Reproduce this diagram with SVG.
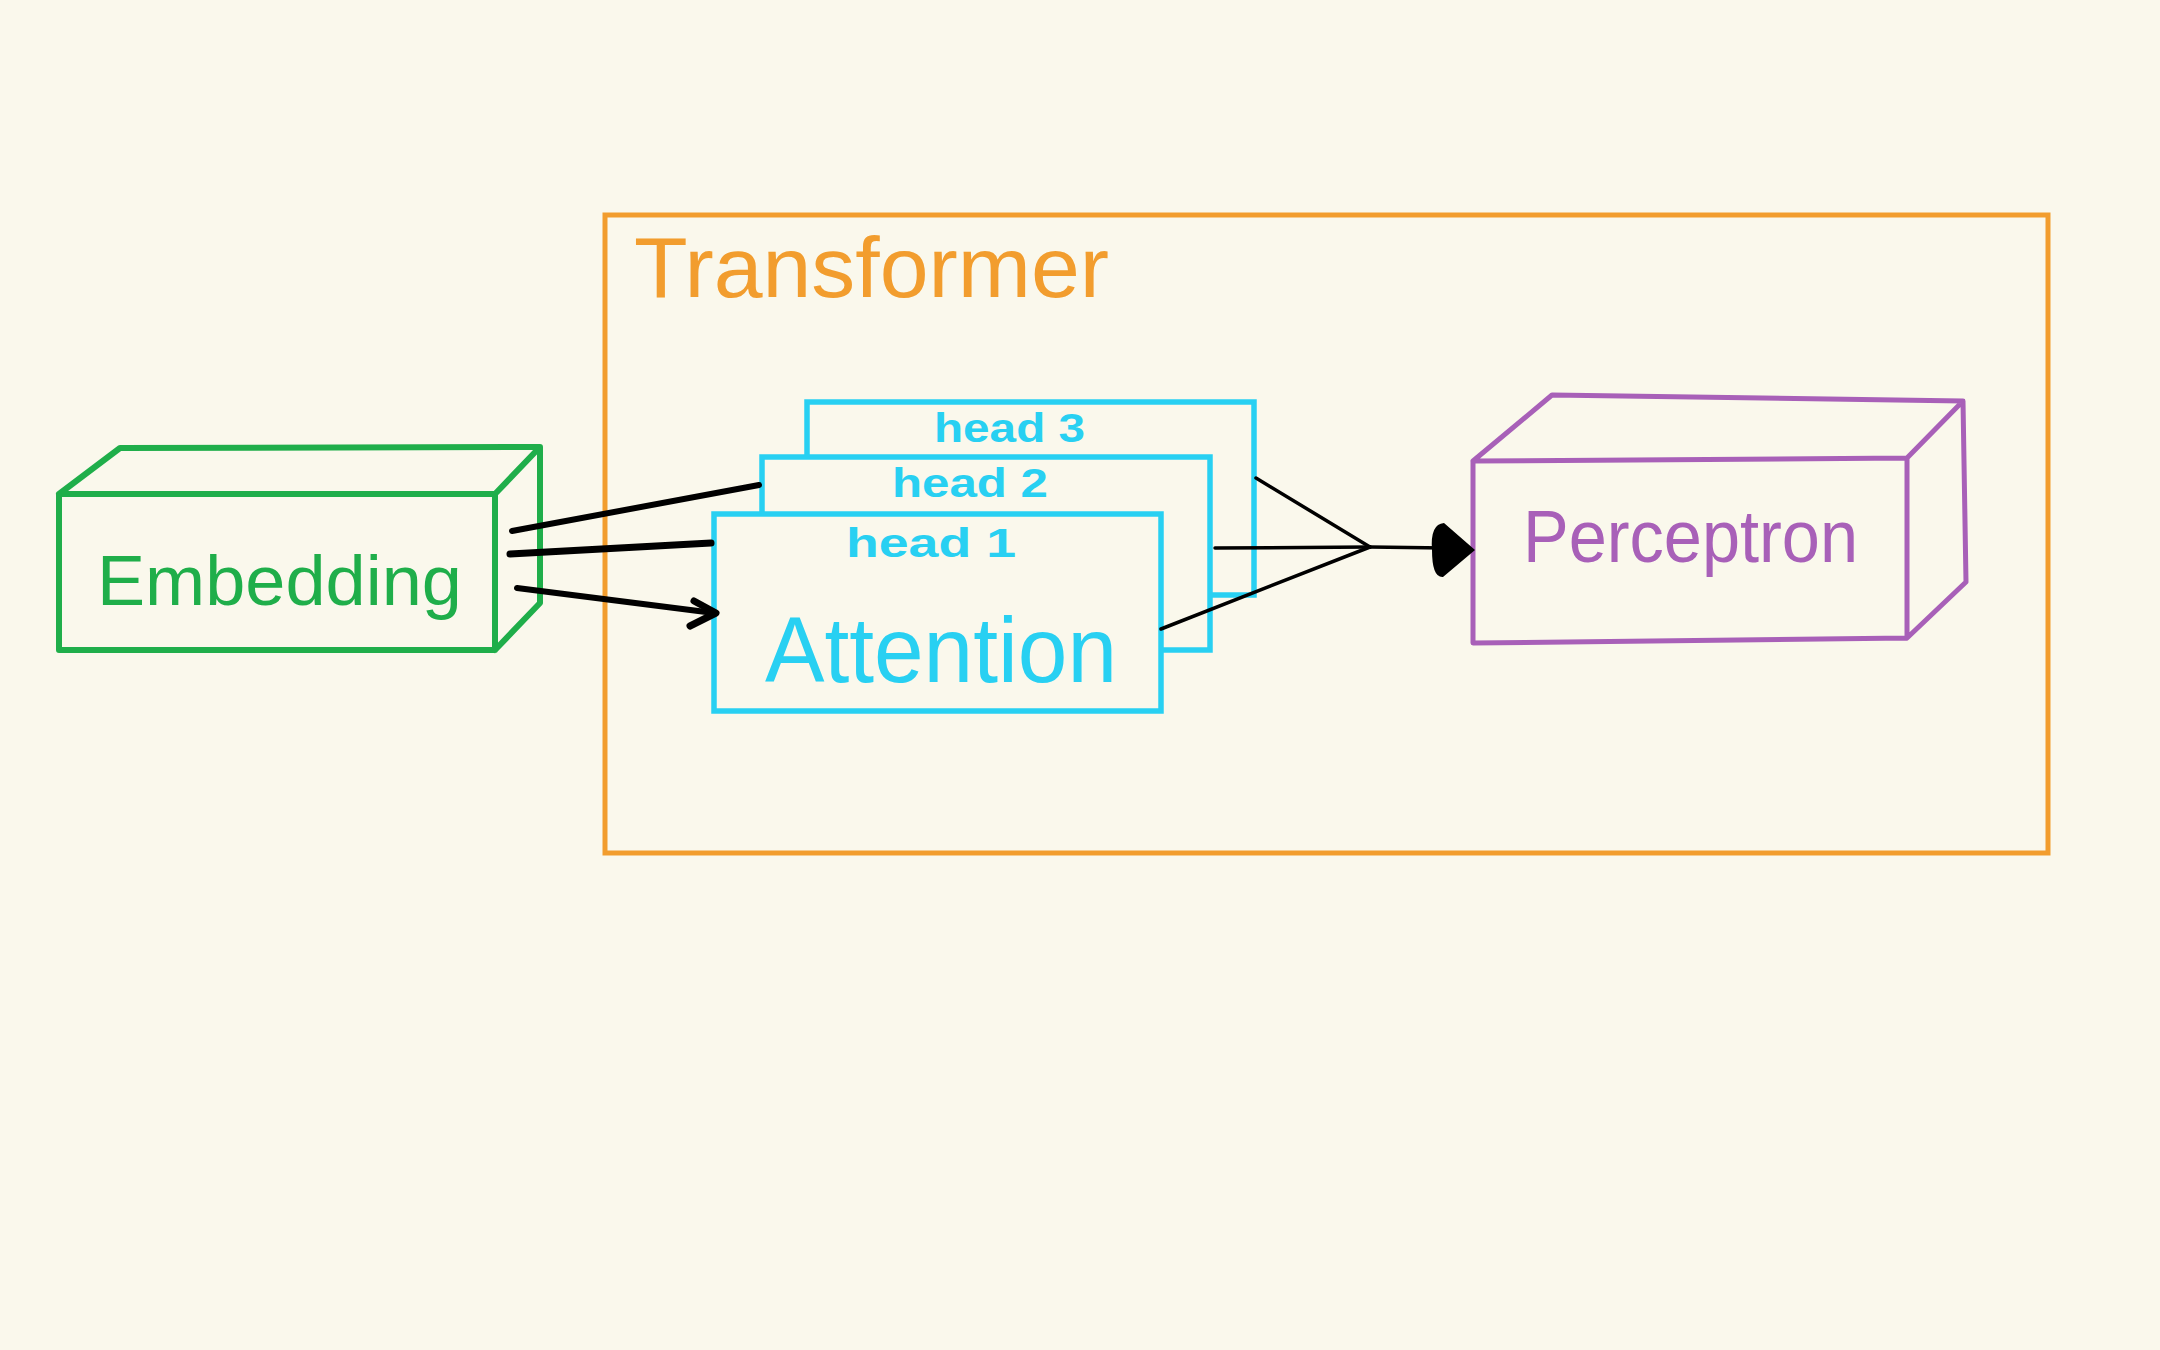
<svg xmlns="http://www.w3.org/2000/svg" width="2160" height="1350" viewBox="0 0 2160 1350">
<style>
.bg{fill:#faf8ec}
.emb{fill:none;stroke:#1fae4a;stroke-width:6;stroke-linejoin:round;stroke-linecap:round}
.per{fill:none;stroke:#a860b8;stroke-width:5;stroke-linejoin:round;stroke-linecap:round}
.head{fill:#faf8ec;stroke:#28d0f2;stroke-width:5.5}
.tr{fill:none;stroke:#f29d2e;stroke-width:5}
.lbl{font-family:"Liberation Sans",Arial,sans-serif}
.con{fill:none;stroke:#000;stroke-linecap:round;stroke-linejoin:round}
</style>
<rect class="bg" x="0" y="0" width="2160" height="1350"/>

<g id="transformer">
<rect class="tr" x="605" y="215" width="1443" height="638"/>
<text class="lbl" x="634" y="297" font-size="85" fill="#f29d2e" textLength="475" lengthAdjust="spacingAndGlyphs">Transformer</text>
</g>

<g id="embedding">
<path class="emb" d="M59,494 L495,494 L495,650 L59,650 Z M59,494 L120,448 L540,447 L495,494 M540,447 L540,603 L495,650"/>
<text class="lbl" x="97" y="605" font-size="70" fill="#1fae4a" textLength="365" lengthAdjust="spacingAndGlyphs">Embedding</text>
</g>

<g id="head3">
<rect class="head" x="807" y="402" width="447" height="193"/>
<text class="lbl" x="934" y="442" font-size="40" font-weight="bold" fill="#28d0f2" textLength="151" lengthAdjust="spacingAndGlyphs">head 3</text>
</g>

<g id="head2">
<rect class="head" x="762" y="457" width="448" height="193"/>
<text class="lbl" x="892" y="497" font-size="40" font-weight="bold" fill="#28d0f2" textLength="156" lengthAdjust="spacingAndGlyphs">head 2</text>
</g>

<g id="head1">
<rect class="head" x="714" y="514" width="447" height="197"/>
<text class="lbl" x="846" y="557" font-size="40" font-weight="bold" fill="#28d0f2" textLength="170" lengthAdjust="spacingAndGlyphs">head 1</text>
<text class="lbl" x="765" y="682" font-size="92" fill="#28d0f2" textLength="352" lengthAdjust="spacingAndGlyphs">Attention</text>
</g>

<g id="perceptron">
<path class="per" d="M1473,461 L1907,458 L1907,638 L1473,643 Z M1473,461 L1552,395 L1963,401 L1907,458 M1963,401 L1966,582 L1907,638"/>
<text class="lbl" x="1523" y="562" font-size="74" fill="#a860b8" textLength="335" lengthAdjust="spacingAndGlyphs">Perceptron</text>
</g>

<g id="connectors">
<line class="con" x1="512" y1="531" x2="759" y2="485" stroke-width="6"/>
<line class="con" x1="510" y1="554" x2="711" y2="543" stroke-width="7"/>
<line class="con" x1="517" y1="588" x2="714" y2="613" stroke-width="6"/>
<polyline class="con" points="694,601 716,613 690,626" stroke-width="7"/>
<line class="con" x1="1256" y1="478" x2="1370" y2="547" stroke-width="3.5"/>
<line class="con" x1="1215" y1="548" x2="1370" y2="547" stroke-width="3.5"/>
<line class="con" x1="1161" y1="629" x2="1370" y2="547" stroke-width="3.5"/>
<line class="con" x1="1370" y1="547" x2="1445" y2="548" stroke-width="3.5"/>
<path d="M1475,550 L1444,523 Q1430,524 1432,550 Q1432,578 1443,577 Z" fill="#000"/>
</g>
</svg>
